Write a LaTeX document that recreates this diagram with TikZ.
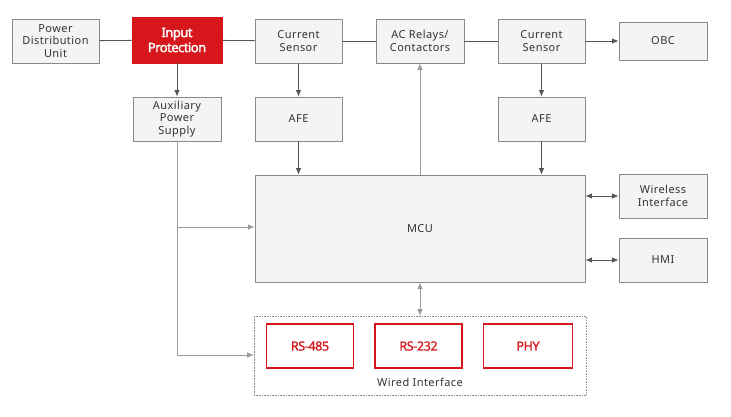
\documentclass[tikz,border=0pt]{standalone}
\usepackage{fontspec}
\setmainfont{Noto Sans}[LetterSpace=4]
\newfontfamily\headfont{Noto Sans}[LetterSpace=-3, FakeBold=0.8]
\newfontfamily\headbold{Noto Sans}[LetterSpace=-4, FakeBold=2.2]
\usepackage{tikz}
\usetikzlibrary{arrows.meta, positioning}
\definecolor{boxfill}{HTML}{F4F4F4}
\definecolor{boxline}{HTML}{8A8A8A}
\definecolor{wire}{HTML}{555555}
\definecolor{lightwire}{HTML}{9A9A9A}
\definecolor{alertred}{HTML}{D7161B}
\tikzset{
  block/.style = {draw=boxline, fill=boxfill, line width=0.8pt, align=center,
    inner sep=0pt, text=black!80, font=\fontsize{11}{12.5}\selectfont,
    minimum width=87pt, minimum height=44pt},
  redblock/.style = {block, draw=alertred, fill=alertred, text=white,
    font=\headbold\fontsize{13}{15}\selectfont},
  port/.style = {block, draw=alertred, fill=white, line width=1.6pt,
    text=alertred, font=\headfont\fontsize{12.5}{14}\selectfont},
  link/.style = {draw=wire, line width=0.8pt},
  flow/.style = {link, -{Latex[length=6.5pt, width=5.5pt]}},
  dflow/.style = {link, {Latex[length=6.5pt, width=5.5pt]}-{Latex[length=6.5pt, width=5.5pt]}}
}
\begin{document}
\begin{tikzpicture}[x=1pt, y=-1pt]
\useasboundingbox (0,0) rectangle (731,417);
% top chain
\node [block] (pdu) at (55.5,41) {Power\\Distribution\\Unit};
\node [redblock, minimum width=90pt, minimum height=46pt] (prot) at (177,40) {Input\\Protection};
\node [block] (cs1) at (298.5,41) {Current\\Sensor};
\node [block, minimum width=88pt] (relay) at (420,41) {AC Relays/\\Contactors};
\node [block] (cs2) at (541.5,41) {Current\\Sensor};
\node [block, minimum width=88pt, minimum height=38pt] (obc) at (663,41) {OBC};
% second row
\node [block, minimum width=88pt] (aux) at (177,119) {Auxiliary\\Power\\Supply};
\node [block] (afe1) at (298.5,119) {AFE};
\node [block] (afe2) at (541.5,119) {AFE};
% controller
\node [block, minimum width=330pt, minimum height=107pt] (mcu) at (420,228.5) {MCU};
\node [block, minimum width=88pt] (wless) at (663,196) {Wireless\\Interface};
\node [block, minimum width=88pt] (hmi) at (663,260) {HMI};
% wired interface
\node [draw=boxline, densely dotted, line width=0.6pt, minimum width=332pt,
  minimum height=79pt, inner sep=0pt] (wired) at (420,355.5) {};
\node [port] (rs485) at (310,346) {RS-485};
\node [port] (rs232) at (418.5,346) {RS-232};
\node [port, minimum width=89pt] (phy) at (528,346) {PHY};
\node [text=black!80, font=\fontsize{11}{12.5}\selectfont] (wlabel) at (420,382) {Wired Interface};

\draw [link] (pdu) -- (prot);
\draw [link] (prot) -- (cs1);
\draw [link] (cs1) -- (relay);
\draw [link] (relay) -- (cs2);
\draw [flow] (cs2) -- (obc);
\draw [flow] (prot) -- (aux);
\draw [flow] (cs1) -- (afe1);
\draw [flow] (cs2) -- (afe2);
\draw [flow] (afe1) -- (afe1 |- mcu.north);
\draw [flow] (afe2) -- (afe2 |- mcu.north);
\draw [flow, draw=lightwire] (mcu.north) -- (relay);
\draw [dflow] (mcu.east |- wless) -- (wless);
\draw [dflow] (mcu.east |- hmi) -- (hmi);
\draw [dflow, draw=lightwire] (mcu) -- (mcu |- wired.north);
\coordinate (tap) at (aux |- 0,227);
\draw [link, draw=lightwire] (aux) -- (tap);
\draw [flow, draw=lightwire] (tap) -- (mcu.west |- tap);
\draw [flow, draw=lightwire] (tap) |- (wired.west |- 0,355);
\end{tikzpicture}
\end{document}
